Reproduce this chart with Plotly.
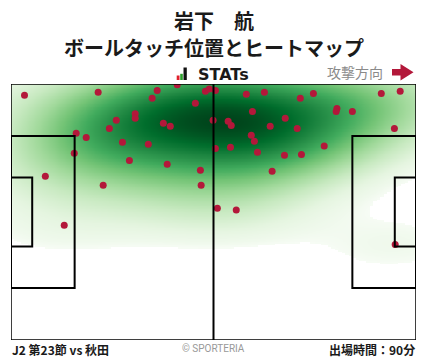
import numpy as np
import plotly.graph_objects as go

# ---- data: ball touch positions (pitch metres, x: own goal -> attack, y: bottom -> top)
touch_x = [3.5, 22.6, 37.9, 43.1, 36.6, 50.4, 51.4, 53.0, 47.8, 32.2, 32.2, 27.3, 25.5, 39.5,
           41.3, 52.4, 16.9, 19.5, 16.4, 28.9, 35.6, 53.0, 30.7, 40.5, 49.1, 23.9, 49.3, 61.0,
           65.7, 75.0, 78.4, 62.6, 84.5, 84.3, 88.5, 56.3, 57.1, 71.1, 67.2, 74.2, 62.3, 63.1,
           56.9, 63.9, 70.9, 75.3, 81.2, 67.7, 96.0, 100.9, 99.4, 8.9, 13.8, 53.5, 58.4, 99.6]
touch_y = [65.0, 65.8, 66.3, 67.8, 64.2, 66.1, 66.7, 66.3, 62.9, 60.1, 58.9, 58.4, 56.2, 57.6,
           56.8, 58.4, 54.9, 53.8, 49.6, 52.5, 52.0, 50.9, 47.7, 46.7, 45.1, 41.1, 41.1, 65.3,
           65.8, 64.2, 65.5, 60.7, 61.5, 60.7, 60.7, 58.1, 57.0, 58.9, 56.8, 56.2, 54.4, 52.8,
           51.2, 49.9, 49.1, 49.3, 51.5, 44.8, 65.5, 66.1, 56.2, 43.5, 30.5, 35.0, 34.5, 25.4]

player = "岩下　航"
subtitle = "ボールタッチ位置とヒートマップ"
match_label = "J2 第23節 vs 秋田"
minutes_label = "出場時間：90分"
credit = "© SPORTERIA"
direction_label = "攻撃方向"

PITCH_L, PITCH_W = 105.0, 68.0

# ---- gaussian KDE (Scott's rule, full covariance) like seaborn kdeplot, grid cut=3 bandwidths
BW_ADJUST = 1.35
CUT = 3
pts = np.vstack([touch_x, touch_y])
n = pts.shape[1]
kcov = np.cov(pts) * (BW_ADJUST * n ** (-1 / 6)) ** 2
inv = np.linalg.inv(kcov)
bw = np.sqrt(np.diag(kcov))
gx = np.linspace(min(touch_x) - CUT * bw[0], max(touch_x) + CUT * bw[0], 220)
gy = np.linspace(min(touch_y) - CUT * bw[1], max(touch_y) + CUT * bw[1], 200)
GX, GY = np.meshgrid(gx, gy)
grid = np.stack([GX.ravel(), GY.ravel()])
diff = grid[:, :, None] - pts[:, None, :]
maha = np.einsum('ij,imk,jmk->mk', inv, diff, diff)
dens = np.exp(-0.5 * maha).sum(axis=1)
# iso-proportion value: fraction of mass below this density
order = np.argsort(dens)
cum = np.cumsum(dens[order]) / dens.sum()
prop = np.empty_like(dens)
prop[order] = cum
prop = prop.reshape(GX.shape)
THRESH = 0.04
GAMMA = 0.75
tval = np.clip((prop - THRESH) / (1 - THRESH), 0, 1) ** GAMMA
zval = np.where(prop < THRESH, np.nan, tval)

greens = [[0.0, '#f7fcf5'], [0.125, '#e5f5e0'], [0.25, '#c7e9c0'], [0.375, '#a1d99b'],
          [0.5, '#74c476'], [0.625, '#41ab5d'], [0.75, '#238b45'], [0.875, '#006d2c'],
          [1.0, '#00441b']]

fig = go.Figure()
fig.add_trace(go.Heatmap(x=gx, y=gy, z=zval, colorscale=greens, zmin=0.0, zmax=1.0,
                         zsmooth='best', showscale=False, hoverinfo='skip'))
fig.add_trace(go.Scatter(x=touch_x, y=touch_y, mode='markers',
                         marker=dict(size=7, color='#b3183a', line=dict(width=0)),
                         hoverinfo='skip', showlegend=False))

# ---- pitch markings
line = dict(color='black', width=2)
box_w = 40.32
ga_w = 18.32
shapes = [
    dict(type='rect', x0=0, x1=PITCH_L, y0=0, y1=PITCH_W, line=dict(color='black', width=1.5)),
    dict(type='line', x0=PITCH_L / 2, x1=PITCH_L / 2, y0=0, y1=PITCH_W, line=line),
    dict(type='rect', x0=0, x1=16.5, y0=(PITCH_W - box_w) / 2, y1=(PITCH_W + box_w) / 2, line=line),
    dict(type='rect', x0=0, x1=5.5, y0=(PITCH_W - ga_w) / 2, y1=(PITCH_W + ga_w) / 2, line=line),
    dict(type='rect', x0=PITCH_L - 16.5, x1=PITCH_L, y0=(PITCH_W - box_w) / 2, y1=(PITCH_W + box_w) / 2, line=line),
    dict(type='rect', x0=PITCH_L - 5.5, x1=PITCH_L, y0=(PITCH_W - ga_w) / 2, y1=(PITCH_W + ga_w) / 2, line=line),
]
for s in shapes:
    s.update(xref='x', yref='y', layer='above')

# ---- decorations in paper coords (pixel helpers)
W, H = 428, 359
L, R, T, B = 11, 12, 84, 19
pw, ph = W - L - R, H - T - B


def px(x):
    return (x - L) / pw


def py(y):
    return (H - B - y) / ph


deco = [
    dict(type='rect', x0=px(176.7), x1=px(179.5), y0=py(80), y1=py(75.5), fillcolor='#e0202c', line=dict(width=0)),
    dict(type='rect', x0=px(180.2), x1=px(182.8), y0=py(80), y1=py(73.8), fillcolor='#2ca02c', line=dict(width=0)),
    dict(type='rect', x0=px(183.5), x1=px(186.8), y0=py(80), y1=py(67.5), fillcolor='#111111', line=dict(width=0)),
]
arrow_path = "M {a},{b} L {c},{b} L {c},{d} L {e},{f} L {c},{g} L {c},{h} L {a},{h} Z".format(
    a=px(392), c=px(400.5), e=px(413.5), b=py(69), h=py(75.5), d=py(64), g=py(80.5), f=py(72.3))
deco.append(dict(type='path', path=arrow_path, fillcolor='#b3183a', line=dict(width=0)))
for s in deco:
    s.update(xref='paper', yref='paper')

jp = "Noto Sans CJK JP"
ann = [
    dict(text="<b>%s</b>" % player, x=px(214), y=py(20), font=dict(family=jp, size=20, color='#1a1a1a')),
    dict(text="<b>%s</b>" % subtitle, x=px(214), y=py(47), font=dict(family=jp, size=20, color='#1a1a1a')),
    dict(text="<b>STATs</b>", x=px(196), y=py(74), xanchor='left', font=dict(family='DejaVu Sans', size=16, color='#1a1a1a')),
    dict(text=direction_label, x=px(385), y=py(72), xanchor='right', font=dict(family=jp, size=14, color='#8a8a8a')),
    dict(text="<b>%s</b>" % match_label, x=px(10), y=py(349), xanchor='left', font=dict(family=jp, size=12, color='#1a1a1a')),
    dict(text="<b>%s</b>" % minutes_label, x=px(417), y=py(349), xanchor='right', font=dict(family=jp, size=12, color='#1a1a1a')),
    dict(text=credit, x=px(213), y=py(348), font=dict(family='Roboto', size=10, color='#999999')),
]
for a in ann:
    a.update(xref='paper', yref='paper', showarrow=False, yanchor='middle')
    a.setdefault('xanchor', 'center')

fig.update_layout(
    width=W, height=H, margin=dict(l=L, r=R, t=T, b=B),
    paper_bgcolor='white', plot_bgcolor='white',
    xaxis=dict(range=[0, PITCH_L], visible=False, fixedrange=True),
    yaxis=dict(range=[0, PITCH_W], visible=False, fixedrange=True),
    shapes=shapes + deco, annotations=ann, showlegend=False,
)
fig.write_html("out.html", config={'displayModeBar': False},
               post_script="document.body.style.margin='0';document.body.style.padding='0';")
